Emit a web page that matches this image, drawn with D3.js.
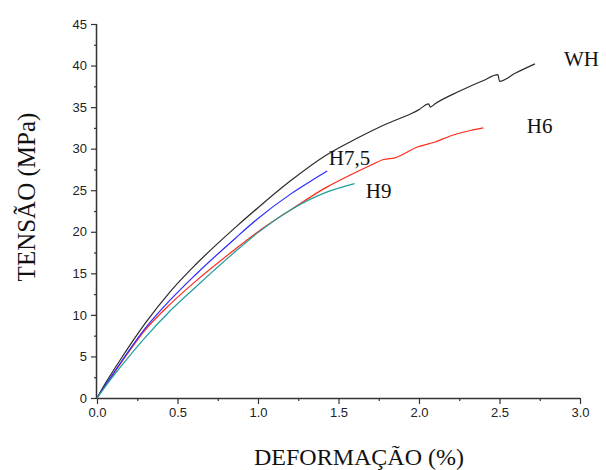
<!DOCTYPE html>
<html><head><meta charset="utf-8">
<script src="https://cdn.jsdelivr.net/npm/d3@7/dist/d3.min.js"></script>
<style>
html,body{margin:0;padding:0;background:#fff;}
svg{display:block;}
.tick text{font-family:"Liberation Sans",Arial,sans-serif;font-size:13px;fill:#222;}
</style></head>
<body><svg id="c" width="606" height="470"></svg>
<script>
// Data (strain %, stress MPa)
const whStrain = [0,0.05,0.145,0.3,0.455,0.61,0.858,1.0,1.2,1.43,1.6,1.8,1.95,2.0,2.06,2.07,2.1,2.25,2.4,2.49,2.5,2.6,2.72];
const whStress = [0,1.7,4.6,9.0,12.8,16.0,20.5,22.9,26.1,29.3,31.1,33.0,34.2,34.7,35.4,35.0,35.4,36.9,38.2,38.9,38.1,39.1,40.2];
const h75Strain = [0,0.05,0.145,0.3,0.455,0.61,0.858,1.0,1.2,1.32,1.43];
const h75Stress = [0,1.5,4.2,8.4,11.8,14.8,19.2,21.6,24.5,26.0,27.3];
const h6Strain = [0,0.05,0.145,0.3,0.455,0.61,0.858,1.0,1.2,1.43,1.57,1.7,1.78,1.85,1.99,2.1,2.19,2.3,2.4];
const h6Stress = [0,1.4,4.1,8.2,11.3,14.0,17.9,20.0,22.6,25.4,26.8,28.0,28.7,28.9,30.2,30.8,31.5,32.1,32.5];
const h9Strain = [0,0.05,0.145,0.3,0.455,0.61,0.858,1.0,1.2,1.43,1.6];
const h9Stress = [0,1.35,3.7,7.3,10.5,13.3,17.6,19.9,22.6,24.8,25.8];
const seriesNames = ["WH","H6","H7,5","H9"];
const xTicks = [0,0.5,1.0,1.5,2.0,2.5,3.0];
const xMinor = [0.25,0.75,1.25,1.75,2.25,2.75];
const yTicks = [0,5,10,15,20,25,30,35,40,45];
const yMinor = [2.5,7.5,12.5,17.5,22.5,27.5,32.5,37.5,42.5];

const svg = d3.select("#c");
const L=97, R=580, T=24, B=398;
const x = d3.scaleLinear().domain([0,3]).range([L,R]);
const y = d3.scaleLinear().domain([0,45]).range([B,T]);

const axisColor="#333";
const gx = svg.append("g").attr("transform",`translate(0,${B})`)
  .call(d3.axisBottom(x).tickValues(xTicks).tickFormat(d3.format(".1f")).tickSize(6).tickPadding(4));
const gxm = svg.append("g").attr("transform",`translate(0,${B})`)
  .call(d3.axisBottom(x).tickValues(xMinor).tickFormat("").tickSize(3));
const gy = svg.append("g").attr("transform",`translate(${L},0)`)
  .call(d3.axisLeft(y).tickValues(yTicks).tickFormat(d3.format("d")).tickSize(6).tickPadding(4));
const gym = svg.append("g").attr("transform",`translate(${L},0)`)
  .call(d3.axisLeft(y).tickValues(yMinor).tickFormat("").tickSize(3));
[gx,gxm,gy,gym].forEach(g=>{
  g.selectAll("path").attr("stroke",axisColor).attr("stroke-width",1.5);
  g.selectAll("line").attr("stroke",axisColor).attr("stroke-width",1.2);
});
gxm.select("path").remove(); gym.select("path").remove();
gx.select("path").attr("d",`M${L},0.5H${R}`);
gy.select("path").attr("d",`M-0.5,${B}V${T}`);

const series = [
  {name:"WH", xs:whStrain, ys:whStress, color:"#2b2b2b"},
  {name:"H6", xs:h6Strain, ys:h6Stress, color:"#ff2a1a"},
  {name:"H7,5", xs:h75Strain, ys:h75Stress, color:"#2a2aff"},
  {name:"H9", xs:h9Strain, ys:h9Stress, color:"#1f9e9e"}
];
const line = d3.line().x(d=>x(d[0])).y(d=>y(d[1])).curve(d3.curveMonotoneX);
series.forEach(s=>{
  const pts = s.xs.map((v,i)=>[v,s.ys[i]]);
  svg.append("path").datum(pts).attr("d",line).attr("fill","none")
    .attr("stroke",s.color).attr("stroke-width",1.2).attr("stroke-linejoin","round");
});

// Series labels
const labelPos = {"WH":[2.9,40.0],"H6":[2.67,31.9],"H7,5":[1.44,28.0],"H9":[1.67,24.1]};
seriesNames.forEach(n=>{
  svg.append("text").attr("x",x(labelPos[n][0])).attr("y",y(labelPos[n][1]))
    .attr("font-family","'Liberation Serif','Times New Roman',serif").attr("font-size",21)
    .attr("fill","#111").text(n);
});

// Axis titles
svg.append("text").attr("x",359).attr("y",465).attr("text-anchor","middle")
  .attr("font-family","'Liberation Serif','Times New Roman',serif").attr("font-size",24)
  .attr("fill","#111").text("DEFORMAÇÃO (%)");
svg.append("text").attr("transform","translate(35,197) rotate(-90)").attr("text-anchor","middle")
  .attr("font-family","'Liberation Serif','Times New Roman',serif").attr("font-size",25)
  .attr("fill","#111").text("TENSÃO (MPa)");
</script></body></html>
